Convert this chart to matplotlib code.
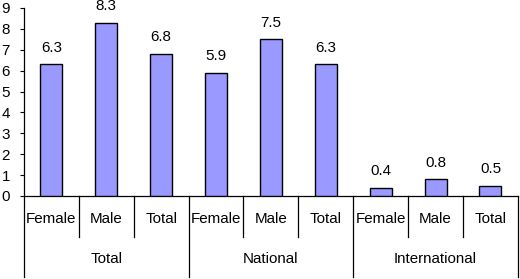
import numpy as np
import matplotlib.pyplot as plt

plt.rcParams["font.family"] = ["Liberation Sans", "DejaVu Sans"]

# data
groups = ["Total", "National", "International"]
subcats = ["Female", "Male", "Total"]
values = [6.3, 8.3, 6.8, 5.9, 7.5, 6.3, 0.4, 0.8, 0.5]

bar_color = "#9999FF"
fs = 10.9

fig = plt.figure(figsize=(5.2, 2.79), dpi=100)
ax = fig.add_axes([0.046, 0.2975, 0.95, 0.674])

x = np.arange(len(values))
ax.bar(x, values, width=0.4, color=bar_color, edgecolor="black", linewidth=1.0, zorder=3)

for xi, v in zip(x, values):
    ax.annotate(f"{v:.1f}", (xi, v), xytext=(0, 7), textcoords="offset points",
                ha="center", va="bottom", fontsize=fs)

ax.set_xlim(-0.5, len(values) - 0.5)
ax.set_ylim(0, 9)
ax.set_yticks(range(0, 10))
ax.tick_params(axis="y", direction="out", length=3, width=0.8, labelsize=fs, pad=7)
ax.set_xticks([])

for s in ["top", "right"]:
    ax.spines[s].set_visible(False)
ax.spines["left"].set_visible(False)
ax.spines["bottom"].set_linewidth(0.9)

trans = ax.get_xaxis_transform()
n_sub = len(subcats)

# sub-category labels
for i in range(len(values)):
    ax.text(x[i], -0.122, subcats[i % n_sub], transform=trans, ha="center", va="center", fontsize=fs)

# group labels
for g, name in enumerate(groups):
    cx = g * n_sub + (n_sub - 1) / 2
    ax.text(cx, -0.335, name, transform=trans, ha="center", va="center", fontsize=fs)

# separator lines below axis
for b in range(len(values) + 1):
    bx = b - 0.5
    if b % n_sub == 0:
        y0 = -0.431
    else:
        y0 = -0.218
    top = 1.0 if b == 0 else 0.0
    ax.plot([bx, bx], [y0, top], transform=trans, color="black", linewidth=0.9, clip_on=False)

fig.savefig("out.png", dpi=100)
